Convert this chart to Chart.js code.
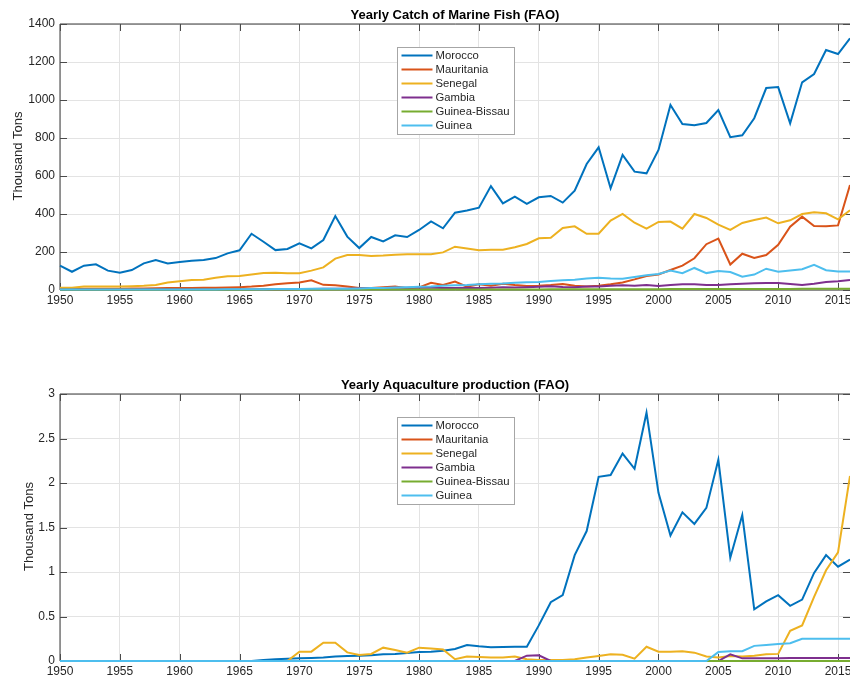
<!DOCTYPE html>
<html><head><meta charset="utf-8">
<script src="https://cdn.jsdelivr.net/npm/chart.js@4.4.1/dist/chart.umd.min.js"></script>
<style>html,body{margin:0;padding:0;background:#fff;overflow:hidden;width:850px;height:680px}canvas{display:block}</style>
</head><body>
<canvas id="c1" width="850" height="340"></canvas>
<canvas id="c2" width="850" height="340"></canvas>
<script>
const years = [1950,1951,1952,1953,1954,1955,1956,1957,1958,1959,
1960,1961,1962,1963,1964,1965,1966,1967,1968,1969,
1970,1971,1972,1973,1974,1975,1976,1977,1978,1979,
1980,1981,1982,1983,1984,1985,1986,1987,1988,1989,
1990,1991,1992,1993,1994,1995,1996,1997,1998,1999,
2000,2001,2002,2003,2004,2005,2006,2007,2008,2009,
2010,2011,2012,2013,2014,2015,2016];

const countries = ['Morocco','Mauritania','Senegal','Gambia','Guinea-Bissau','Guinea'];
const colors = ['#0072BD','#D95319','#EDB120','#7E2F8E','#77AC30','#4DBEEE'];

const catchMorocco = [128,96,128,135,102,91,105,140,158,140,
147,154,158,168,193,209,296,254,210,216,
246,219,263,389,281,221,279,256,288,279,
316,361,325,407,418,433,547,456,491,453,
488,495,460,523,663,751,535,711,623,614,
737,974,874,867,879,947,804,814,904,1063,
1068,877,1093,1137,1263,1242,1325];
const catchMauritania = [5,5,6,6,7,7,8,8,9,10,
10,11,12,12,13,15,18,23,30,35,
40,51,27,25,18,10,10,14,18,9,
14,38,27,44,17,30,23,33,26,21,
22,26,32,22,18,22,30,40,56,74,
82,105,128,167,241,270,134,191,169,184,
238,333,386,337,335,340,553];
const catchSenegal = [12,12,18,19,19,19,20,22,26,39,
46,53,54,65,72,74,82,89,91,88,
88,102,119,165,184,184,179,181,186,188,
188,188,198,228,219,209,212,212,225,242,
272,275,326,335,296,296,365,400,354,323,
358,360,323,400,379,344,316,353,368,381,
351,367,400,409,404,372,420];
const catchGambia = [1,1,1,1,1,1,1,2,2,2,
2,2,2,3,3,3,3,4,4,4,
5,5,6,6,7,8,9,11,12,12,
13,12,11,10,12,10,12,14,13,15,
17,20,16,14,18,18,22,25,22,26,
21,26,30,30,26,26,30,33,35,37,
37,32,26,33,42,46,53];
const catchGuineaBissau = [1,1,1,1,1,1,1,1,1,1,
1,1,1,1,1,1,1,2,2,2,
2,2,2,2,2,2,2,2,2,2,
3,3,3,3,3,3,3,3,3,3,
3,4,4,4,4,4,4,4,4,4,
4,5,5,5,5,5,5,5,5,5,
5,5,6,6,6,6,6];
const catchGuinea = [2,2,2,2,2,2,2,3,3,3,
3,3,3,3,4,4,4,4,5,5,
5,6,6,7,7,8,10,11,13,15,
17,19,23,25,26,30,33,34,38,41,
42,47,51,54,60,65,61,59,68,78,
84,102,88,116,89,100,95,70,81,112,
96,102,109,132,104,98,98];

const aquaMorocco = [0,0,0,0,0,0,0,0,0,0,
0,0,0,0,0,0,0,0.01,0.02,0.025,
0.03,0.035,0.04,0.05,0.055,0.06,0.065,0.075,0.08,0.09,
0.1,0.105,0.116,0.135,0.18,0.165,0.154,0.157,0.16,0.16,
0.40,0.66,0.74,1.19,1.46,2.07,2.09,2.33,2.16,2.79,
1.89,1.41,1.67,1.54,1.72,2.26,1.16,1.64,0.58,0.67,
0.74,0.62,0.69,0.99,1.19,1.06,1.14];
const aquaMauritania = [0,0,0,0,0,0,0,0,0,0,
0,0,0,0,0,0,0,0,0,0,
0,0,0,0,0,0,0,0,0,0,
0,0,0,0,0,0,0,0,0,0,
0,0,0,0,0,0,0,0,0,0,
0,0,0,0,0,0,0,0,0,0,
0,0,0,0,0,0,0];
const aquaSenegal = [0,0,0,0,0,0,0,0,0,0,
0,0,0,0,0,0,0,0,0,0,
0.105,0.105,0.206,0.206,0.097,0.067,0.079,0.15,0.124,0.094,
0.15,0.14,0.13,0.02,0.05,0.045,0.04,0.04,0.05,0.02,
0.01,0.01,0.01,0.02,0.04,0.056,0.075,0.07,0.026,0.16,
0.105,0.105,0.11,0.094,0.05,0.04,0.056,0.05,0.06,0.075,
0.08,0.34,0.40,0.72,1.02,1.22,2.08];
const aquaGambia = [0,0,0,0,0,0,0,0,0,0,
0,0,0,0,0,0,0,0,0,0,
0,0,0,0,0,0,0,0,0,0,
0,0,0,0,0,0,0,0,0,0.06,
0.064,0,0,0,0,0,0,0,0,0,
0,0,0,0,0,0,0.075,0.03,0.03,0.03,
0.03,0.035,0.035,0.035,0.035,0.035,0.035];
const aquaGuineaBissau = [0,0,0,0,0,0,0,0,0,0,
0,0,0,0,0,0,0,0,0,0,
0,0,0,0,0,0,0,0,0,0,
0,0,0,0,0,0,0,0,0,0,
0,0,0,0,0,0,0,0,0,0,
0,0,0,0,0,0,0,0,0,0,
0,0,0,0,0,0,0];
const aquaGuinea = [0,0,0,0,0,0,0,0,0,0,
0,0,0,0,0,0,0,0,0,0,
0,0,0,0,0,0,0,0,0,0,
0,0,0,0,0,0,0,0,0,0,
0,0,0,0,0,0,0,0,0,0,
0,0,0,0,0,0.10,0.11,0.11,0.17,0.18,
0.19,0.2,0.25,0.25,0.25,0.25,0.25];

const xTickValues = [1950,1955,1960,1965,1970,1975,1980,1985,1990,1995,2000,2005,2010,2015];
const xTickLabels = ['1950','1955','1960','1965','1970','1975','1980','1985','1990','1995','2000','2005','2010','2015'];
const catchTickValues = [0,200,400,600,800,1000,1200,1400];
const catchTickLabels = ['0','200','400','600','800','1000','1200','1400'];
const aquaTickValues = [0,0.5,1,1.5,2,2.5,3];
const aquaTickLabels = ['0','0.5','1','1.5','2','2.5','3'];

const FONT = "'Liberation Sans', Arial, Helvetica, sans-serif";
const TXT = '#262626';

const framePlugin = {
  id: 'frame',
  beforeDatasetsDraw(chart, args, o) {
    const {ctx, chartArea: a, scales} = chart;
    const x = scales.x, y = scales.y;
    ctx.save();
    ctx.strokeStyle = '#3a3a3a';
    ctx.lineWidth = 1;
    ctx.beginPath();
    ctx.moveTo(a.right + 2, a.top); ctx.lineTo(a.left, a.top);
    ctx.lineTo(a.left, a.bottom); ctx.lineTo(a.right + 2, a.bottom);
    ctx.stroke();
    const tl = 7;
    ctx.strokeStyle = '#4a4a4a';
    ctx.beginPath();
    x.ticks.forEach(t => {
      const px = Math.round(x.getPixelForValue(t.value)) + 0.5;
      ctx.moveTo(px, a.bottom); ctx.lineTo(px, a.bottom - tl);
      ctx.moveTo(px, a.top); ctx.lineTo(px, a.top + tl);
    });
    y.ticks.forEach(t => {
      const py = Math.round(y.getPixelForValue(t.value)) + 0.5;
      ctx.moveTo(a.left, py); ctx.lineTo(a.left + tl, py);
      ctx.moveTo(a.right, py); ctx.lineTo(a.right - tl, py);
    });
    ctx.stroke();
    ctx.restore();
  },
  afterDraw(chart, args, o) {
    const {ctx, chartArea: a} = chart;
    const cx = (a.left + a.right) / 2;
    ctx.save();
    ctx.fillStyle = '#000';
    ctx.font = 'bold 13px ' + FONT;
    ctx.textAlign = 'center';
    ctx.textBaseline = 'alphabetic';
    ctx.fillText(o.title, cx, a.top - 5);
    ctx.save();
    ctx.translate(o.ylabelX, (a.top + a.bottom) / 2 - 1);
    ctx.rotate(-Math.PI / 2);
    ctx.fillStyle = TXT;
    ctx.font = '13px ' + FONT;
    ctx.fillText(o.ylabel, 0, 0);
    ctx.restore();
    const bw = 117, bh = 87;
    const bx = Math.round(cx - bw / 2) + 0.5, by = a.top + 23.5;
    ctx.fillStyle = '#fff';
    ctx.fillRect(bx, by, bw, bh);
    ctx.strokeStyle = '#a6a6a6';
    ctx.lineWidth = 1;
    ctx.strokeRect(bx, by, bw, bh);
    ctx.font = '11.3px ' + FONT;
    ctx.textAlign = 'left';
    ctx.textBaseline = 'middle';
    chart.data.datasets.forEach((ds, i) => {
      const ry = by + 8 + i * 14;
      ctx.strokeStyle = ds.borderColor;
      ctx.lineWidth = 2;
      ctx.beginPath();
      ctx.moveTo(bx + 4, ry); ctx.lineTo(bx + 35, ry);
      ctx.stroke();
      ctx.fillStyle = TXT;
      ctx.fillText(ds.label, bx + 38, ry + 0.5);
    });
    ctx.restore();
  }
};

function makeChart(id, series, tickVals, tickLabels, ymax, padTop, xHeight, title, ylabelX) {
  const datasets = series.map((vals, i) => ({
    label: countries[i],
    data: years.map((yr, k) => ({x: yr, y: vals[k]})),
    borderColor: colors[i],
    backgroundColor: colors[i],
    borderWidth: 2,
    pointRadius: 0,
    tension: 0,
    fill: false,
    clip: 4,
    order: series.length - 1 - i
  }));
  return new Chart(document.getElementById(id), {
    type: 'line',
    data: {datasets},
    options: {
      responsive: false,
      animation: false,
      devicePixelRatio: 1,
      events: [],
      layout: {padding: {top: padTop, left: 0, right: 0, bottom: 0}},
      plugins: {
        legend: {display: false},
        tooltip: {enabled: false},
        title: {display: false},
        frame: {title: title, ylabel: 'Thousand Tons', ylabelX: ylabelX}
      },
      scales: {
        x: {
          type: 'linear', min: 1950, max: 2016,
          afterBuildTicks: s => { s.ticks = xTickValues.map(v => ({value: v})); },
          afterFit: s => { s.height = xHeight; s.paddingLeft = 0; s.paddingRight = 0; },
          ticks: {
            autoSkip: false, maxRotation: 0, minRotation: 0, padding: 3,
            font: {family: FONT, size: 12}, color: TXT,
            callback: (v, i) => xTickLabels[i]
          },
          grid: {color: '#e3e3e3', lineWidth: 1, drawTicks: false},
          border: {display: false}
        },
        y: {
          type: 'linear', min: 0, max: ymax,
          afterBuildTicks: s => { s.ticks = tickVals.map(v => ({value: v})); },
          afterFit: s => { s.width = 60; s.paddingTop = 0; s.paddingBottom = 0; },
          ticks: {
            padding: 5, font: {family: FONT, size: 12}, color: TXT,
            callback: (v, i) => tickLabels[i]
          },
          grid: {color: '#e3e3e3', lineWidth: 1, drawTicks: false},
          border: {display: false}
        }
      }
    },
    plugins: [framePlugin]
  });
}

makeChart('c1',
  [catchMorocco, catchMauritania, catchSenegal, catchGambia, catchGuineaBissau, catchGuinea],
  catchTickValues, catchTickLabels, 1400, 24, 50, 'Yearly Catch of Marine Fish (FAO)', 22);
makeChart('c2',
  [aquaMorocco, aquaMauritania, aquaSenegal, aquaGambia, aquaGuineaBissau, aquaGuinea],
  aquaTickValues, aquaTickLabels, 3, 54, 19, 'Yearly Aquaculture production (FAO)', 33);
</script>
</body></html>
